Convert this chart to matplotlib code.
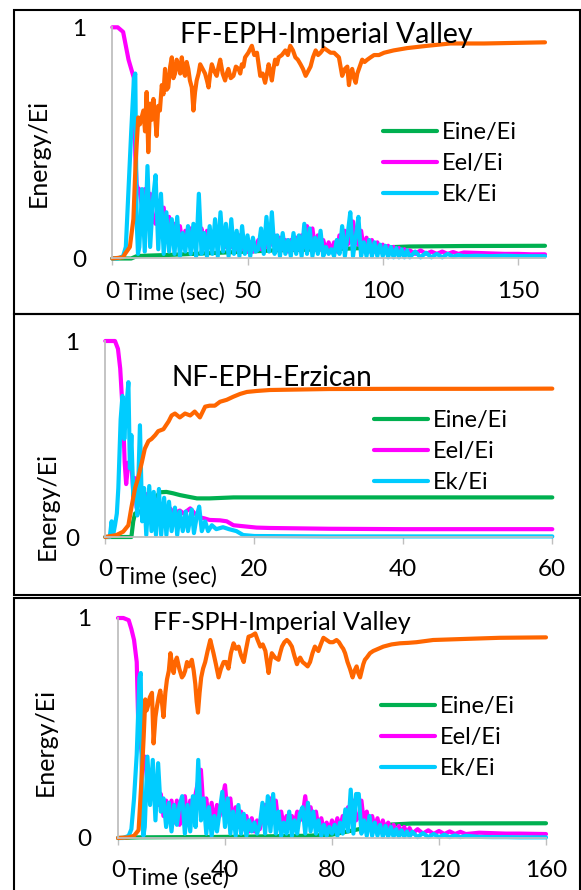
import numpy as np
import matplotlib
matplotlib.use("Agg")
from matplotlib import pyplot as plt
from matplotlib.patches import Rectangle

plt.rcParams['font.family'] = ['Lato', 'DejaVu Sans']

W, H = 581, 890

# couleurs des series (style excel)
C_INE = "#00B050"
C_EL = "#FF00FF"
C_K = "#00CCFF"
C_D = "#FF6600"
C_AX = "#BFBFBF"

# ---------------- panel 1 : FF-EPH-Imperial Valley ----------------
t_osc1 = [0, 2, 4, 5, 6, 7, 8, 8.5, 9, 9.5] + list(range(10, 111)) + list(range(112, 131, 2)) + [135, 140, 145, 150, 155, 160]
ek1 = [0, 0, 0.01, 0.05, 0.3, 0.55, 0.78, 0.8, 0.17, 0.02,
       0.05, 0.30, 0.03, 0.40, 0.05, 0.25, 0.36, 0.04, 0.28, 0.02,
       0.20, 0.03, 0.17, 0.02, 0.18, 0.01, 0.11, 0.03, 0.14, 0.02,
       0.15, 0.01, 0.28, 0.02, 0.11, 0.01, 0.14, 0.02, 0.17, 0.01,
       0.20, 0.03, 0.15, 0.01, 0.17, 0.02, 0.12, 0.01, 0.14, 0.02,
       0.10, 0.01, 0.09, 0.03, 0.04, 0.13, 0.02, 0.18, 0.03, 0.20,
       0.02, 0.10, 0.01, 0.11, 0.02, 0.08, 0.01, 0.11, 0.02, 0.10,
       0.01, 0.15, 0.02, 0.13, 0.01, 0.09, 0.02, 0.12, 0.01, 0.05,
       0.02, 0.04, 0.01, 0.08, 0.02, 0.14, 0.01, 0.10, 0.20, 0.01,
       0.09, 0.18, 0.01, 0.07, 0.01, 0.08, 0.01, 0.07, 0.01, 0.06,
       0.01, 0.055, 0.005, 0.05, 0.005, 0.045, 0.005, 0.04, 0.005, 0.035,
       0.005,
       0.03, 0.005, 0.025, 0.005, 0.02, 0.005, 0.02, 0.008, 0.015, 0.01,
       0.012, 0.01, 0.012, 0.01, 0.01, 0.01]
eel1 = [1, 1, 0.98, 0.92, 0.86, 0.82, 0.78, 0.45, 0.32, 0.3,
        0.30, 0.22, 0.30, 0.20, 0.28, 0.18, 0.15, 0.25, 0.12, 0.22,
        0.10, 0.18, 0.08, 0.15, 0.08, 0.14, 0.06, 0.12, 0.07, 0.13,
        0.06, 0.12, 0.10, 0.13, 0.05, 0.12, 0.05, 0.11, 0.06, 0.12,
        0.07, 0.12, 0.05, 0.11, 0.05, 0.10, 0.04, 0.10, 0.04, 0.08,
        0.03, 0.07, 0.03, 0.05, 0.08, 0.04, 0.10, 0.05, 0.12, 0.06,
        0.10, 0.04, 0.09, 0.04, 0.08, 0.03, 0.08, 0.04, 0.09, 0.04,
        0.10, 0.05, 0.14, 0.05, 0.13, 0.04, 0.10, 0.04, 0.08, 0.03,
        0.07, 0.03, 0.07, 0.03, 0.10, 0.05, 0.12, 0.06, 0.08, 0.16,
        0.07, 0.06, 0.12, 0.04, 0.09, 0.03, 0.08, 0.03, 0.07, 0.03,
        0.06, 0.03, 0.055, 0.025, 0.05, 0.025, 0.045, 0.02, 0.04, 0.02,
        0.035,
        0.02, 0.035, 0.02, 0.03, 0.02, 0.03, 0.02, 0.028, 0.02, 0.026,
        0.024, 0.022, 0.02, 0.02, 0.018, 0.018]
t_ine1 = [0, 7, 8, 9, 12, 20, 40, 60, 80, 100, 110, 130, 160]
ine1 = [0, 0, 0.005, 0.01, 0.012, 0.015, 0.025, 0.035, 0.04, 0.048, 0.052, 0.054, 0.055]
t_d1 = [0, 4, 4.7, 6.5, 7.8, 8.6, 9.6, 10.2, 11.5, 12.1, 12.7, 13.3, 14, 14.6, 15.2, 15.8, 16.4,
        17, 17.6, 18.3, 18.9, 19.5, 20.1, 20.7, 21.4, 22, 22.6, 23.2, 23.8, 24.4, 25.1, 25.7,
        26.3, 26.9, 27.5, 28.1, 28.7, 29.4, 30, 30.6, 31.2, 31.9, 32.5, 33.4, 34.3, 35, 35.6,
        36.2, 36.8, 37.7, 38.6, 39.3, 39.9, 40.8, 41.7, 42.3, 42.9, 43.8, 44.8, 45.7, 46.7,
        47.3, 47.9, 48.5, 49.1, 50.3, 51.6, 52.5, 53.5, 54.1, 54.7, 55.6, 56.5, 57.2, 57.8,
        58.4, 59, 59.6, 60.2, 60.9, 61.5, 62.7, 64, 64.9, 65.8, 66.8, 67.7, 68.6, 69.6, 70.5,
        71.5, 72.4, 73.3, 74.2, 75.2, 76.1, 77, 78.3, 79.5, 80.7, 82, 82.9, 83.8, 84.4, 85,
        86, 86.9, 87.5, 88.1, 88.7, 89.4, 90, 90.6, 91.2, 91.8, 92.4, 93.3, 94.3, 95.5, 96.8,
        98.6, 100.5, 102.2, 104, 106.5, 109, 112.7, 116.5, 120.7, 125, 137.5, 160]
ed1 = [0, 0.005, 0.02, 0.05, 0.17, 0.41, 0.61, 0.58, 0.64, 0.55, 0.72, 0.46, 0.67, 0.60, 0.69, 0.62, 0.53,
       0.66, 0.64, 0.75, 0.71, 0.82, 0.73, 0.74, 0.83, 0.87, 0.78, 0.80, 0.86, 0.84, 0.80, 0.87,
       0.81, 0.79, 0.85, 0.82, 0.77, 0.74, 0.64, 0.72, 0.77, 0.80, 0.84, 0.82, 0.80, 0.77, 0.74,
       0.80, 0.84, 0.81, 0.79, 0.83, 0.86, 0.80, 0.77, 0.80, 0.82, 0.78, 0.79, 0.83, 0.82,
       0.80, 0.84, 0.83, 0.87, 0.89, 0.92, 0.88, 0.89, 0.84, 0.79, 0.80, 0.76, 0.80, 0.84,
       0.81, 0.77, 0.82, 0.86, 0.84, 0.87, 0.88, 0.90, 0.88, 0.92, 0.90, 0.87, 0.86, 0.84, 0.82,
       0.79, 0.81, 0.83, 0.87, 0.90, 0.88, 0.89, 0.91, 0.90, 0.89, 0.89, 0.88, 0.87, 0.83, 0.79,
       0.82, 0.83, 0.75, 0.80, 0.82, 0.78, 0.76, 0.80, 0.82, 0.84, 0.86, 0.85, 0.86, 0.87, 0.88,
       0.88, 0.89, 0.895, 0.90, 0.905, 0.91, 0.915, 0.92, 0.925, 0.93, 0.93, 0.935]

# ---------------- panel 2 : NF-EPH-Erzican ----------------
t_k2 = [0, 0.6, 0.85, 1.05, 1.3, 1.55, 1.75, 2.06, 2.3, 2.55, 2.8, 3.1, 3.3, 3.5, 3.75, 4.0,
        4.3, 4.65, 4.95, 5.2, 5.5, 5.9, 6.2, 6.5, 6.8, 7.2, 7.5, 7.9, 8.2, 8.55, 8.9, 9.35,
        9.65, 10.0, 10.4, 10.8, 11.1, 11.6, 11.9, 12.3, 12.6, 12.95, 13.4, 13.8, 14.3,
        14.9, 15.8, 16.6, 17.6, 18.5, 20, 25, 30, 40, 50, 60]
ek2 = [0, 0, 0.08, 0.01, 0.06, 0.12, 0.25, 0.6, 0.72, 0.5, 0.65, 0.79, 0.35, 0.52, 0.21, 0.28,
       0.11, 0.57, 0.08, 0.25, 0.01, 0.26, 0.03, 0.23, 0.01, 0.245, 0.01, 0.2, 0.01, 0.18, 0.03, 0.15,
       0.01, 0.13, 0.03, 0.13, 0.03, 0.14, 0.02, 0.11, 0.155, 0.03, 0.08, 0.03, 0.06,
       0.04, 0.05, 0.04, 0.03, 0.01, 0.005, 0.004, 0.003, 0.003, 0.003, 0.003]
t_el2 = [0, 1.3, 1.7, 2.0, 2.4, 2.6, 2.8, 3.1, 3.5, 3.8, 4.0, 4.2, 4.7, 5.1, 5.4, 5.7, 6.0,
         6.4, 6.8, 7.3, 7.7, 8.2, 8.7, 9.2, 10, 10.5, 11.4, 12.0, 12.7, 13.3, 14, 15.4,
         16.3, 17.2, 18.5, 20.3, 22.1, 30, 40, 50, 60]
eel2 = [1, 1.0, 0.96, 0.86, 0.6, 0.38, 0.27, 0.38, 0.38, 0.2, 0.3, 0.15, 0.18, 0.15, 0.22, 0.12, 0.2,
        0.12, 0.19, 0.13, 0.17, 0.13, 0.146, 0.12, 0.135, 0.12, 0.146, 0.12, 0.1, 0.095, 0.087, 0.085,
        0.08, 0.06, 0.055, 0.048, 0.046, 0.042, 0.04, 0.04, 0.04]
t_ine2 = [0, 3.5, 3.75, 4.0, 4.65, 5.5, 6.4, 7.3, 8.2, 9.1, 10, 11.2, 12.3, 14, 17.2, 22, 30, 40, 50, 60]
ine2 = [0, 0, 0.08, 0.12, 0.13, 0.14, 0.18, 0.228, 0.23, 0.223, 0.214, 0.205, 0.197, 0.197, 0.202,
        0.202, 0.202, 0.202, 0.202, 0.202]
t_d2 = [0, 1.5, 2.4, 3.1, 3.5, 4.0, 4.4, 4.9, 5.3, 5.8, 6.2, 6.7, 7.1, 7.8, 8.5, 8.9, 9.35, 10,
        10.7, 11.4, 12, 12.7, 13.4, 14, 14.7, 15.4, 16.3, 17.2, 18.1, 19, 20.3, 22.1, 30, 40, 50, 60]
ed2 = [0, 0.01, 0.027, 0.06, 0.15, 0.25, 0.3, 0.38, 0.45, 0.49, 0.5, 0.52, 0.54, 0.55, 0.59, 0.62,
       0.63, 0.61, 0.63, 0.62, 0.64, 0.61, 0.665, 0.67, 0.67, 0.69, 0.7, 0.716, 0.73, 0.74, 0.745,
       0.75, 0.755, 0.756, 0.756, 0.757]

# ---------------- panel 3 : FF-SPH-Imperial Valley ----------------
t_osc3 = [0, 2, 4, 5, 6, 7, 7.5, 8, 8.5, 9, 9.5] + list(range(10, 111)) + list(range(112, 131, 2)) + [135, 140, 145, 150, 155, 160]
ek3 = [0, 0, 0.01, 0.04, 0.18, 0.38, 0.55, 0.73, 0.75, 0.12, 0.01,
       0.05, 0.37, 0.15, 0.355, 0.08, 0.34, 0.12, 0.18, 0.05, 0.16,
       0.03, 0.15, 0.06, 0.15, 0.19, 0.02, 0.15, 0.03, 0.19, 0.05,
       0.355, 0.08, 0.18, 0.02, 0.14, 0.01, 0.10, 0.03, 0.12, 0.21,
       0.05, 0.18, 0.02, 0.12, 0.01, 0.15, 0.02, 0.11, 0.01, 0.08,
       0.03, 0.07, 0.02, 0.06, 0.16, 0.02, 0.19, 0.03, 0.20, 0.02,
       0.12, 0.01, 0.07, 0.02, 0.12, 0.01, 0.08, 0.02, 0.11, 0.14,
       0.02, 0.16, 0.03, 0.12, 0.02, 0.08, 0.01, 0.06, 0.01, 0.05,
       0.02, 0.06, 0.01, 0.07, 0.02, 0.13, 0.03, 0.22, 0.02, 0.20,
       0.20, 0.02, 0.08, 0.01, 0.10, 0.01, 0.07, 0.01, 0.06, 0.005,
       0.055, 0.005, 0.05, 0.005, 0.04, 0.005, 0.035, 0.005, 0.03, 0.005,
       0.028,
       0.004, 0.022, 0.004, 0.018, 0.004, 0.015, 0.004, 0.012, 0.004, 0.01,
       0.005, 0.004, 0.004, 0.003, 0.003, 0.003]
eel3 = [1, 1, 0.99, 0.95, 0.9, 0.8, 0.55, 0.48, 0.42, 0.38, 0.35,
        0.37, 0.25, 0.30, 0.20, 0.22, 0.15, 0.20, 0.10, 0.17, 0.08,
        0.17, 0.07, 0.17, 0.06, 0.12, 0.19, 0.08, 0.17, 0.10, 0.20,
        0.26, 0.31, 0.12, 0.18, 0.07, 0.16, 0.06, 0.15, 0.10, 0.18,
        0.24, 0.10, 0.18, 0.06, 0.14, 0.05, 0.12, 0.04, 0.10, 0.03,
        0.09, 0.03, 0.08, 0.04, 0.10, 0.15, 0.08, 0.18, 0.10, 0.17,
        0.06, 0.12, 0.05, 0.10, 0.05, 0.10, 0.06, 0.12, 0.08, 0.10,
        0.19, 0.08, 0.14, 0.06, 0.12, 0.04, 0.09, 0.03, 0.07, 0.03,
        0.08, 0.04, 0.09, 0.04, 0.10, 0.06, 0.14, 0.08, 0.17, 0.08,
        0.10, 0.17, 0.06, 0.12, 0.05, 0.10, 0.04, 0.09, 0.03, 0.08,
        0.03, 0.07, 0.025, 0.06, 0.02, 0.055, 0.02, 0.05, 0.02, 0.045,
        0.02,
        0.04, 0.02, 0.035, 0.018, 0.032, 0.018, 0.03, 0.018, 0.028, 0.018,
        0.024, 0.022, 0.02, 0.02, 0.019, 0.018]
t_ine3 = [0, 8, 40, 70, 80, 90, 100, 110, 160]
ine3 = [0, 0.003, 0.005, 0.01, 0.015, 0.04, 0.06, 0.066, 0.067]
t_d3 = [0, 4, 6, 7.7, 9, 9.6, 10.2, 10.7, 11.2, 11.9, 12.7, 13.3, 14, 14.6, 15.2, 15.8, 16.4, 17,
        17.7, 18.3, 19, 19.6, 20.2, 20.8, 21.4, 22, 22.9, 23.9, 24.5, 25.1, 25.8, 26.5, 27.6,
        28.3, 28.9, 29.4, 29.9, 30.5, 31.1, 31.8, 32.6, 33.5, 34.5, 35.1, 35.7, 36.6, 37.6,
        38.5, 39.5, 40.4, 41.3, 42.2, 43.2, 44.1, 45.1, 46, 47, 47.9, 48.8, 50, 51.3, 52.2,
        53.2, 54.1, 55.1, 55.7, 56.3, 56.9, 57.5, 58.7, 60, 60.6, 61.3, 62.2, 63.1, 64, 65,
        65.9, 66.9, 67.5, 68.1, 69, 70, 70.9, 71.8, 72.7, 73.6, 74.2, 74.9, 75.8, 76.8, 78,
        79.2, 80.4, 81.7, 82.6, 83.6, 84.2, 84.9, 85.8, 86.7, 87.2, 87.7, 88.4, 89.2, 89.8,
        90.5, 91.1, 91.7, 92.3, 93, 94.2, 95.4, 97.3, 99.2, 102.3, 105.4, 108.5, 111.6, 117.8,
        130, 142.7, 160]
ed3 = [0, 0.003, 0.01, 0.036, 0.31, 0.46, 0.63, 0.58, 0.60, 0.64, 0.66, 0.43, 0.55, 0.60, 0.64, 0.67, 0.62, 0.55,
       0.66, 0.72, 0.76, 0.84, 0.79, 0.75, 0.80, 0.82, 0.77, 0.73, 0.74, 0.76, 0.80, 0.78, 0.81,
       0.76, 0.70, 0.62, 0.57, 0.66, 0.73, 0.77, 0.80, 0.85, 0.90, 0.87, 0.84, 0.79, 0.73,
       0.77, 0.80, 0.80, 0.77, 0.84, 0.885, 0.86, 0.87, 0.83, 0.80, 0.86, 0.915, 0.92, 0.93, 0.90,
       0.87, 0.88, 0.85, 0.80, 0.75, 0.80, 0.84, 0.82, 0.81, 0.84, 0.87, 0.89, 0.90, 0.89, 0.87,
       0.83, 0.79, 0.81, 0.82, 0.80, 0.79, 0.78, 0.80, 0.84, 0.87, 0.86, 0.85, 0.88, 0.91, 0.90,
       0.89, 0.89, 0.90, 0.89, 0.87, 0.86, 0.84, 0.80, 0.77, 0.75, 0.73, 0.76, 0.78, 0.75,
       0.73, 0.76, 0.79, 0.81, 0.82, 0.84, 0.85, 0.86, 0.87, 0.88, 0.885, 0.887, 0.89, 0.90,
       0.905, 0.91, 0.912]

labels = ["Eine/Ei", "Eel/Ei", "Ek/Ei"]


def fx(x):
    return x / W


def fy(y):
    return 1 - y / H


fig = plt.figure(figsize=(W / 100, H / 100), dpi=100)

# cadres noirs autour des trois graphes
for (x0, y0, x1, y1) in [(14, 10, 580, 314), (14, 314, 580, 595), (14, 598, 580, 893)]:
    fig.add_artist(Rectangle((fx(x0), fy(y1)), fx(x1) - fx(x0), fy(y0) - fy(y1),
                             transform=fig.transFigure, fill=False, ec="black", lw=1.5))


def panel(box, xmax, xticks, data, title, title_xy, title_fs, ylab_xy, xlab_xy, leg_xy):
    """
    dessine un graphe energie / temps
    box : (gauche, haut, droite, bas) en pixels
    """
    l, t, r, b = box
    ax = fig.add_axes([fx(l), fy(b), fx(r) - fx(l), fy(t) - fy(b)])
    (ti, ine), (tl, el), (tk, k), (td, d) = data
    lw = 3.0
    kw = dict(lw=lw, clip_on=False, solid_joinstyle="round", solid_capstyle="round")
    h1, = ax.plot(ti, ine, color=C_INE, **kw)
    h2, = ax.plot(tl, el, color=C_EL, **kw)
    h3, = ax.plot(tk, k, color=C_K, **kw)
    ax.plot(td, d, color=C_D, **kw)

    ax.set_xlim(0, xmax)
    ax.set_ylim(0, 1)
    for s in ("top", "right"):
        ax.spines[s].set_visible(False)
    for s in ("left", "bottom"):
        ax.spines[s].set_color(C_AX)
        ax.spines[s].set_linewidth(1.3)
    ax.set_xticks(xticks)
    ax.set_xticklabels([str(v) for v in xticks])
    ax.set_yticks([0, 1])
    ax.set_yticklabels(["0", "1"])
    ax.tick_params(axis="x", direction="out", length=5, width=1, color=C_AX, pad=11, labelsize=17.5)
    ax.tick_params(axis="y", length=0, pad=19, labelsize=17.5)
    ax.patch.set_alpha(0)

    fig.text(fx(title_xy[0]), fy(title_xy[1]), title, fontsize=title_fs, ha="center", va="center")
    fig.text(fx(ylab_xy[0]), fy(ylab_xy[1]), "Energy/Ei", fontsize=18, rotation=90, ha="center", va="center")
    fig.text(fx(xlab_xy[0]), fy(xlab_xy[1]), "Time (sec)", fontsize=16.5, ha="center", va="center")

    lg = ax.legend([h1, h2, h3], labels, loc="upper left", bbox_to_anchor=(fx(leg_xy[0]), fy(leg_xy[1])),
                   bbox_transform=fig.transFigure, frameon=False, fontsize=17, handlelength=2.3,
                   handletextpad=0.2, labelspacing=0.42, borderpad=0, borderaxespad=0)
    for ln in lg.get_lines():
        ln.set_linewidth(3.0)
    return ax


panel((112.3, 27.3, 545, 258.5), 160, [0, 50, 100, 150],
      [(t_ine1, ine1), (t_osc1, eel1), (t_osc1, ek1), (t_d1, ed1)],
      "FF-EPH-Imperial Valley", (326, 35), 20.4, (38, 153), (174, 293), (383, 122))
panel((105.3, 341, 552.3, 537), 60, [0, 20, 40, 60],
      [(t_ine2, ine2), (t_el2, eel2), (t_k2, ek2), (t_d2, ed2)],
      "NF-EPH-Erzican", (272, 378), 20.2, (47, 506), (166, 577), (374, 410))
panel((118, 618, 546, 838), 160, [0, 40, 80, 120, 160],
      [(t_ine3, ine3), (t_osc3, eel3), (t_osc3, ek3), (t_d3, ed3)],
      "FF-SPH-Imperial Valley", (282, 623), 18.1, (45, 742), (178, 878), (381, 696))

fig.savefig("out.png", dpi=100)
